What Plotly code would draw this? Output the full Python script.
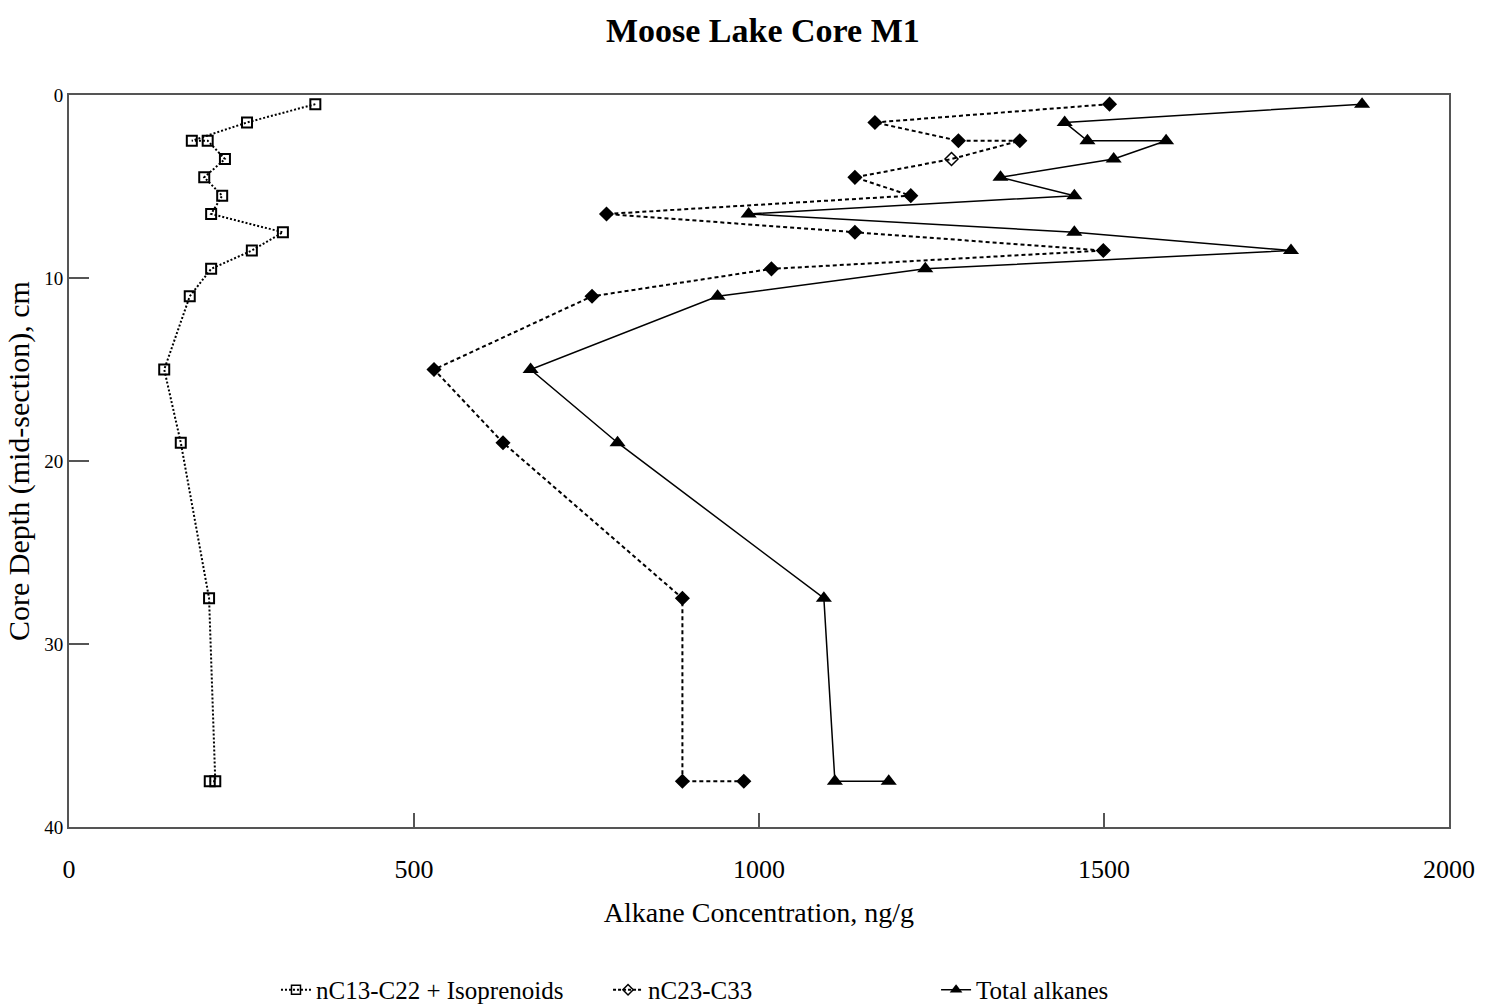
import plotly.graph_objects as go

# Core depth of each sample (cm, mid-section); duplicated depths are replicate runs
depth_cm = [0.5, 1.5, 2.5, 2.5, 3.5, 4.5, 5.5, 6.5, 7.5, 8.5, 9.5, 11, 15, 19, 27.5, 37.5, 37.5]

# Alkane concentrations, ng/g
short_chain = [357, 258, 178, 201, 226, 196, 222, 206, 310, 265, 206, 175, 138, 162, 203, 212, 204]
long_chain = [1508, 1168, 1289, 1378, 1279, 1139, 1220, 779, 1139, 1499, 1018, 758, 529, 629, 889, 889, 978]
total_alkanes = [1874, 1443, 1476, 1590, 1514, 1350, 1457, 985, 1457, 1771, 1241, 940, 669, 795, 1094, 1110, 1188]

series_names = ["nC13-C22 + Isoprenoids", "nC23-C33", "Total alkanes"]
x_ticks = [0, 500, 1000, 1500, 2000]
y_ticks = [0, 10, 20, 30, 40]

FONT = "Liberation Serif, Times New Roman, serif"
INK = "#000000"
AXIS = "#555555"

# one sample of the long-chain set was plotted with an open symbol
long_symbols = ["diamond-open" if i == 4 else "diamond" for i in range(len(long_chain))]

fig = go.Figure()

fig.add_trace(go.Scatter(
    x=short_chain, y=depth_cm, mode="lines+markers", showlegend=False,
    line=dict(color=INK, width=2, dash="2px,2px"),
    marker=dict(symbol="square-open", size=10, color=INK, line=dict(width=2, color=INK)),
))
fig.add_trace(go.Scatter(
    x=long_chain, y=depth_cm, mode="lines+markers", showlegend=False,
    line=dict(color=INK, width=2, dash="4px,3px"),
    marker=dict(symbol=long_symbols, size=10, color=INK, line=dict(width=1.5, color=INK)),
))
fig.add_trace(go.Scatter(
    x=total_alkanes, y=depth_cm, mode="lines+markers", showlegend=False,
    line=dict(color=INK, width=1.5),
    marker=dict(symbol="triangle-up", size=14, color=INK),
))

# legend keys, each placed in its own legend box along the bottom
legend_styles = [
    dict(line=dict(color=INK, width=2, dash="2px,2px"),
         marker=dict(symbol="square-open", size=9, color=INK, line=dict(width=1.5, color=INK))),
    dict(line=dict(color=INK, width=2, dash="3px,2px"),
         marker=dict(symbol="diamond-open", size=8, color=INK, line=dict(width=1.5, color=INK))),
    dict(line=dict(color=INK, width=1.5),
         marker=dict(symbol="triangle-up", size=11, color=INK)),
]
legend_ids = ["legend", "legend2", "legend3"]
for name, style, lg in zip(series_names, legend_styles, legend_ids):
    fig.add_trace(go.Scatter(x=[None], y=[None], mode="lines+markers", name=name,
                             legend=lg, **style))

legend_common = dict(orientation="h", xref="container", yref="container",
                     yanchor="middle", xanchor="left", y=0.0169,
                     bgcolor="rgba(0,0,0,0)", borderwidth=0,
                     font=dict(family=FONT, size=25, color=INK))

fig.update_layout(
    width=1487, height=1007,
    margin=dict(l=69, r=38, t=95, b=180),
    paper_bgcolor="white", plot_bgcolor="white",
    font=dict(family=FONT, color=INK),
    title=dict(text="<b>Moose Lake Core M1</b>", x=0.513, xanchor="center",
               y=0.970, yanchor="middle", font=dict(family=FONT, size=34, color=INK)),
    legend=dict(x=0.1856, **legend_common),
    legend2=dict(x=0.4089, **legend_common),
    legend3=dict(x=0.6295, **legend_common),
    xaxis=dict(
        range=[0, 2000], tickmode="array", tickvals=x_ticks,
        ticks="inside", ticklen=14, tickwidth=1.5, tickcolor=AXIS,
        showline=True, linecolor=AXIS, linewidth=2, mirror=True,
        showgrid=False, zeroline=False,
        tickfont=dict(family=FONT, size=26, color=INK), ticklabelstandoff=18,
        title=dict(text="Alkane Concentration, ng/g", standoff=19,
                   font=dict(family=FONT, size=28, color=INK)),
    ),
    yaxis=dict(
        range=[40, 0], tickmode="array", tickvals=y_ticks,
        ticks="inside", ticklen=20, tickwidth=1.5, tickcolor=AXIS,
        showline=True, linecolor=AXIS, linewidth=2, mirror=True,
        showgrid=False, zeroline=False,
        tickfont=dict(family=FONT, size=19, color=INK),
        title=dict(text="Core Depth (mid-section), cm", standoff=6,
                   font=dict(family=FONT, size=30, color=INK)),
    ),
)

fig.write_html("out.html")
